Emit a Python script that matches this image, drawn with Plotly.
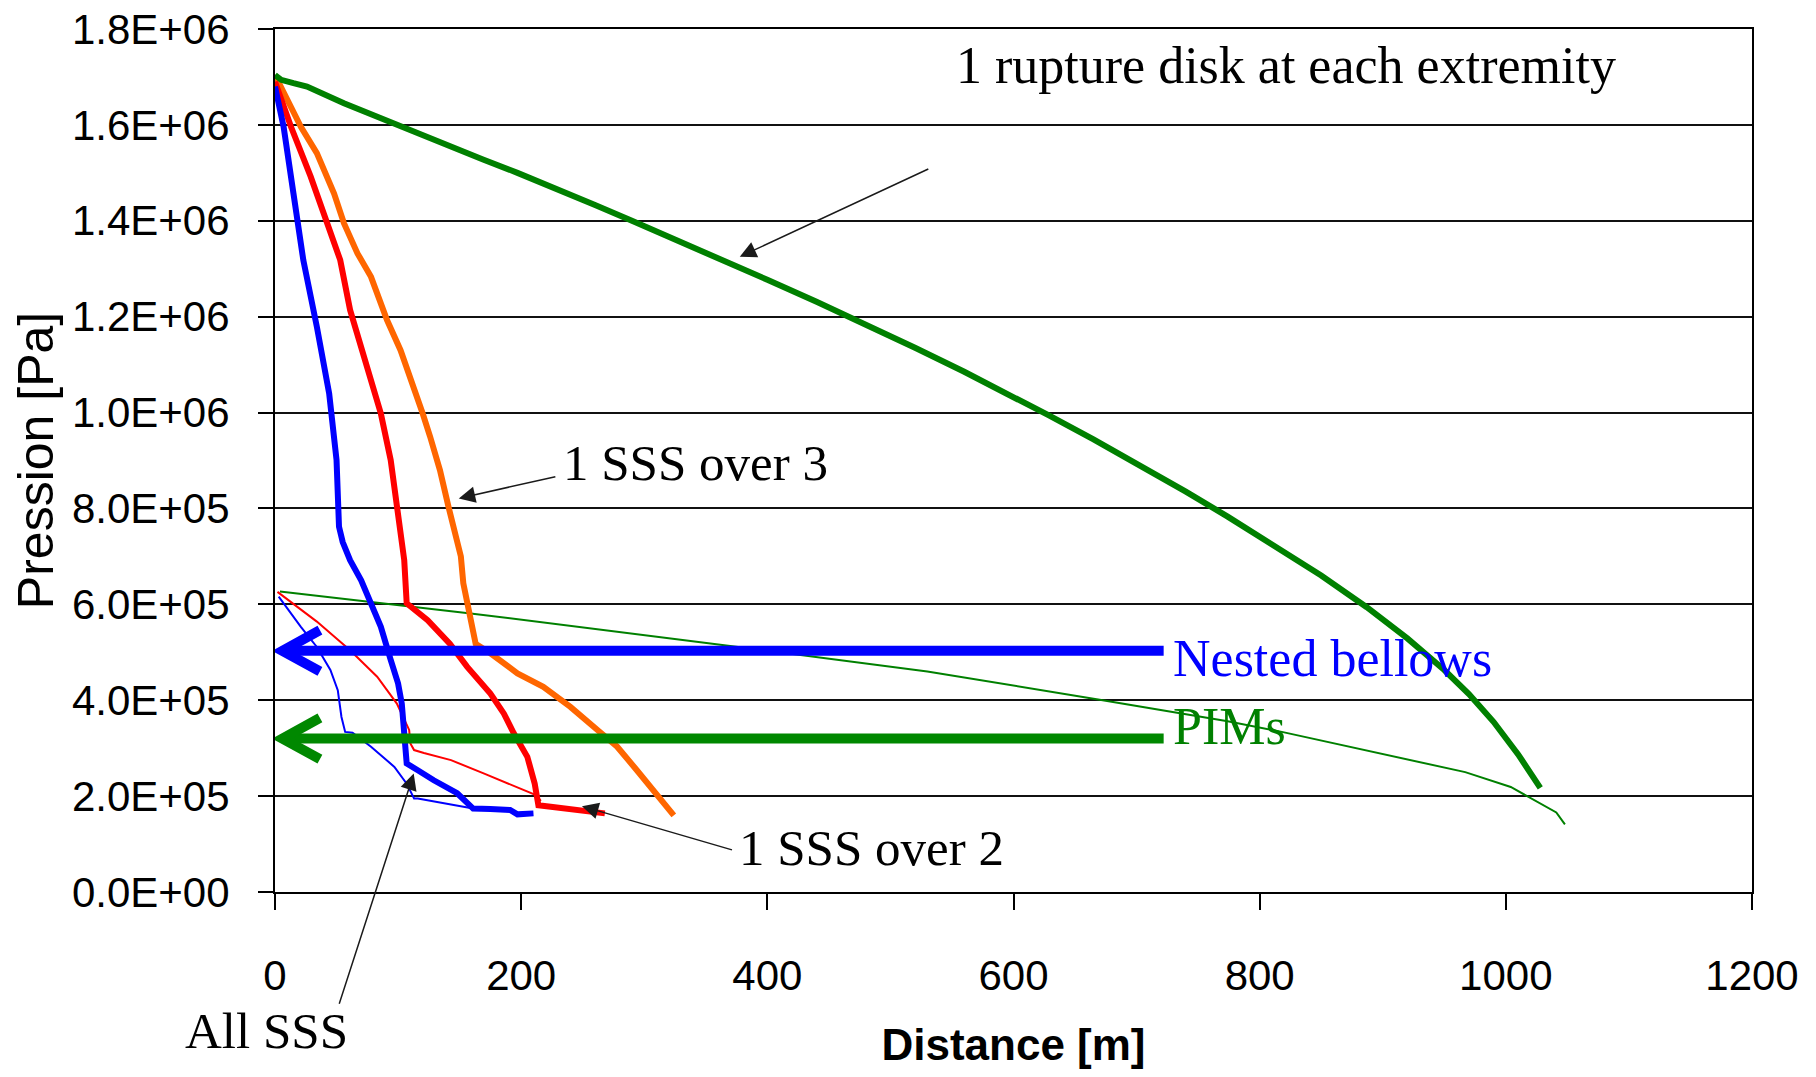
import plotly.graph_objects as go

# ---------------- data ----------------
# 1 rupture disk at each extremity (thick green)
dist_rupture = [0, 5, 15, 26, 56, 94, 121, 143, 169, 197, 224, 260, 290, 330, 372, 400,
                440, 478, 520, 560, 600, 628, 665, 700, 740, 774, 810, 850, 887, 920,
                950, 970, 990, 1010, 1028]
p_rupture = [1.704e6, 1.694e6, 1.687e6, 1.680e6, 1.645e6, 1.605e6, 1.578e6, 1.555e6,
             1.528e6, 1.500e6, 1.472e6, 1.433e6, 1.400e6, 1.356e6, 1.309e6, 1.277e6,
             1.231e6, 1.186e6, 1.135e6, 1.085e6, 1.033e6, 0.995e6, 0.944e6, 0.894e6,
             0.835e6, 0.783e6, 0.726e6, 0.660e6, 0.594e6, 0.529e6, 0.463e6, 0.413e6,
             0.355e6, 0.287e6, 0.217e6]

# 1 SSS over 3 (thick orange)
dist_sss3 = [0, 10, 21, 34, 48, 56, 67, 78, 91, 102, 113, 120, 126, 134, 141, 147, 151,
             153, 159, 163, 175, 197, 218, 240, 262, 278, 294, 310, 324]
p_sss3 = [1.704e6, 1.652e6, 1.596e6, 1.541e6, 1.457e6, 1.395e6, 1.332e6, 1.283e6,
          1.193e6, 1.130e6, 1.054e6, 0.998e6, 0.950e6, 0.880e6, 0.803e6, 0.741e6,
          0.700e6, 0.644e6, 0.574e6, 0.518e6, 0.498e6, 0.456e6, 0.428e6, 0.386e6,
          0.338e6, 0.303e6, 0.254e6, 0.206e6, 0.160e6]

# 1 SSS over 2 (thick red)
dist_sss2 = [0, 13, 29, 42, 53, 61, 69, 78, 86, 94, 100, 105, 107, 124, 142, 156, 175,
             186, 194, 205, 211, 214, 224, 240, 268]
p_sss2 = [1.690e6, 1.596e6, 1.492e6, 1.402e6, 1.318e6, 1.214e6, 1.144e6, 1.075e6,
          0.998e6, 0.901e6, 0.797e6, 0.692e6, 0.602e6, 0.567e6, 0.518e6, 0.470e6,
          0.414e6, 0.372e6, 0.331e6, 0.282e6, 0.226e6, 0.181e6, 0.178e6, 0.174e6,
          0.164e6]

# All SSS (thick blue)
dist_all = [0, 7, 15, 23, 34, 44, 50, 52, 55, 61, 70, 78, 86, 94, 100, 103, 105, 107,
            116, 129, 148, 161, 175, 191, 197, 210]
p_all = [1.680e6, 1.596e6, 1.457e6, 1.318e6, 1.179e6, 1.040e6, 0.901e6, 0.762e6,
         0.730e6, 0.692e6, 0.650e6, 0.602e6, 0.553e6, 0.484e6, 0.435e6, 0.393e6,
         0.324e6, 0.268e6, 0.254e6, 0.233e6, 0.206e6, 0.174e6, 0.173e6, 0.171e6,
         0.162e6, 0.164e6]

# PIMs (thin green)
dist_pims = [4, 159, 386, 530, 670, 774, 818, 911, 967, 1004, 1026, 1041, 1048]
p_pims = [6.27e5, 5.81e5, 5.08e5, 4.60e5, 4.01e5, 3.56e5, 3.34e5, 2.82e5, 2.50e5,
          2.19e5, 1.87e5, 1.66e5, 1.41e5]

# Nested bellows, 1 SSS over 2 (thin red)
dist_nb2 = [2, 34, 61, 83, 99, 109, 110, 113, 121, 143, 170, 197, 212, 216]
p_nb2 = [6.26e5, 5.64e5, 5.04e5, 4.49e5, 3.93e5, 3.38e5, 3.10e5, 2.96e5, 2.90e5,
         2.75e5, 2.47e5, 2.19e5, 2.02e5, 1.90e5]

# Nested bellows, all SSS (thin blue)
dist_nb_all = [3, 21, 34, 45, 51, 54, 57, 63, 78, 97, 107, 113, 116, 132, 161]
p_nb_all = [6.16e5, 5.53e5, 5.11e5, 4.63e5, 4.21e5, 3.65e5, 3.34e5, 3.32e5, 3.03e5,
            2.61e5, 2.26e5, 1.95e5, 1.95e5, 1.88e5, 1.74e5]

x_tick_vals = [0, 200, 400, 600, 800, 1000, 1200]
y_tick_vals = [0, 2e5, 4e5, 6e5, 8e5, 1.0e6, 1.2e6, 1.4e6, 1.6e6, 1.8e6]
y_tick_text = ["0.0E+00", "2.0E+05", "4.0E+05", "6.0E+05", "8.0E+05",
               "1.0E+06", "1.2E+06", "1.4E+06", "1.6E+06", "1.8E+06"]

# ---------------- figure ----------------
SANS = "Liberation Sans, Arial, sans-serif"
SERIF = "Liberation Serif, Times New Roman, serif"
GREEN = "#008000"
BLUE = "#0000FF"
RED = "#FF0000"
ORANGE = "#FF6600"

fig = go.Figure()


def add_line(x, y, color, width, name):
    fig.add_trace(go.Scatter(x=x, y=y, mode="lines", name=name, showlegend=False,
                             line=dict(color=color, width=width)))


add_line(dist_pims, p_pims, GREEN, 2, "PIMs")
add_line(dist_nb2, p_nb2, RED, 2, "Nested bellows - 1 SSS over 2")
add_line(dist_nb_all, p_nb_all, BLUE, 2, "Nested bellows - All SSS")
add_line(dist_sss3, p_sss3, ORANGE, 6, "1 SSS over 3")
add_line(dist_sss2, p_sss2, RED, 6, "1 SSS over 2")
add_line(dist_all, p_all, BLUE, 6, "All SSS")
add_line(dist_rupture, p_rupture, GREEN, 6, "1 rupture disk at each extremity")

# thick chevron arrows (Nested bellows / PIMs)
shapes = []
for yv, col in [(5.03e5, BLUE), (3.20e5, "#008800")]:
    shapes.append(dict(type="line", xref="x", yref="y", x0=722, x1=7, y0=yv, y1=yv,
                       line=dict(color=col, width=10)))
    shapes.append(dict(type="path", xref="x", yref="y",
                       path=f"M 36.5 {yv + 4.3e4} L 6 {yv} L 36.5 {yv - 4.3e4}",
                       line=dict(color=col, width=10)))

annotations = []


def arrow(hx, hy, tx, ty):
    annotations.append(dict(x=hx, y=hy, ax=tx, ay=ty, xref="x", yref="y",
                            axref="x", ayref="y", text="", showarrow=True,
                            arrowhead=2, arrowsize=2.2, arrowwidth=1.5,
                            arrowcolor="#1a1a1a", standoff=0))


arrow(377.6, 1.325e6, 532, 1.5095e6)
arrow(149.3, 8.21e5, 229, 8.67e5)
arrow(249.4, 1.79e5, 372.5, 0.87e5)
arrow(112.7, 2.47e5, 51.8, -2.36e5)


def label(x, y, text, color="black", xanchor="center", size=51, xref="x", yref="y"):
    annotations.append(dict(x=x, y=y, xref=xref, yref=yref, text=text, showarrow=False,
                            xanchor=xanchor, yanchor="middle",
                            font=dict(family=SERIF, size=size, color=color)))


label(821, 1.723e6, "1 rupture disk at each extremity", size=52)
label(342, 8.94e5, "1 SSS over 3")
label(485, 0.914e5, "1 SSS over 2")
label(-0.006, -0.161, "All SSS", xref="paper", yref="paper")
label(728, 4.86e5, "Nested bellows", color=BLUE, xanchor="left", size=52)
label(728, 3.45e5, "PIMs", color=GREEN, xanchor="left", size=52)

fig.update_layout(
    width=1800, height=1061,
    margin=dict(l=266.5, r=55.6, t=21, b=177.2, autoexpand=False),
    paper_bgcolor="white", plot_bgcolor="white",
    font=dict(family=SANS, color="black"),
    shapes=shapes, annotations=annotations,
    showlegend=False,
)

fig.update_xaxes(
    range=[0, 1200], tickmode="array", tickvals=x_tick_vals,
    ticks="outside", ticklen=16, tickwidth=2, tickcolor="black",
    showline=True, linecolor="black", linewidth=2, mirror=True,
    showgrid=False, zeroline=False, ticklabeloverflow="allow",
    tickfont=dict(family=SANS, size=42, color="black"), ticklabelstandoff=30,
    title=dict(text="<b>Distance [m]</b>", font=dict(family=SANS, size=44, color="black"),
               standoff=34),
)
fig.update_yaxes(
    range=[0, 1.8e6], tickmode="array", tickvals=y_tick_vals, ticktext=y_tick_text,
    ticks="outside", ticklen=15, tickwidth=2, tickcolor="black",
    showline=True, linecolor="black", linewidth=2, mirror=True,
    showgrid=True, gridcolor="#111111", gridwidth=2, zeroline=False,
    ticklabeloverflow="allow",
    tickfont=dict(family=SANS, size=42, color="black"), ticklabelstandoff=20,
    title=dict(text="Pression [Pa]", font=dict(family=SANS, size=50, color="black"),
               standoff=20),
)

fig.write_html("out.html")
